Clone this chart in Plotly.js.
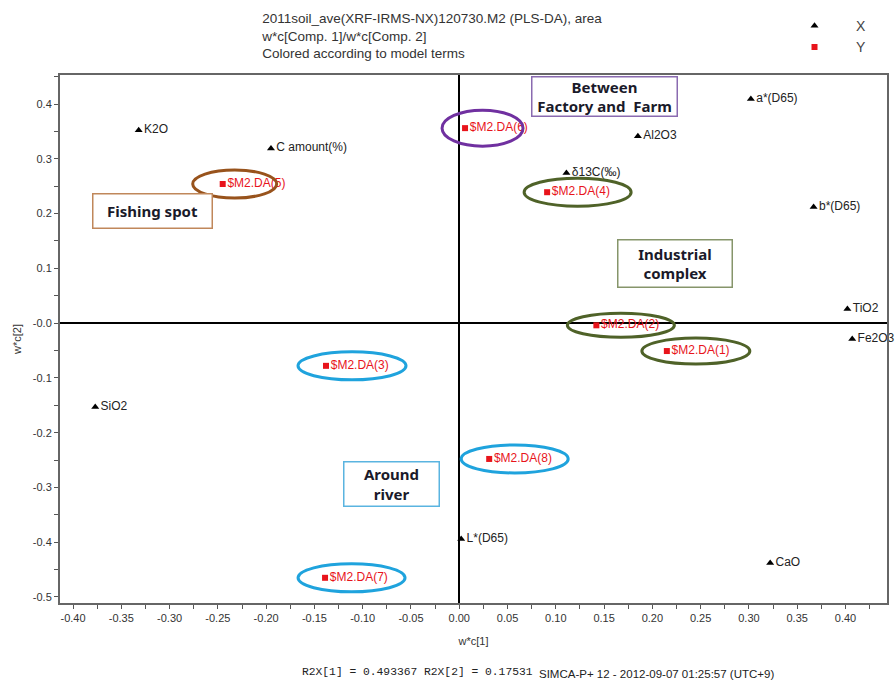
<!DOCTYPE html>
<html>
<head>
<meta charset="utf-8">
<script src="https://cdn.plot.ly/plotly-3.0.1.min.js"></script>
<style>html,body{margin:0;padding:0;background:#fff;}#chart{width:895px;height:680px;}</style>
</head>
<body>
<div id="chart"></div>
<script>
// X variables (model terms) loadings
const xNames = ["K2O", "C amount(%)", "SiO2", "a*(D65)", "Al2O3", "δ13C(‰)", "b*(D65)", "TiO2", "Fe2O3", "L*(D65)", "CaO"];
const xW1 = [-0.332, -0.195, -0.377, 0.302, 0.185, 0.111, 0.367, 0.402, 0.407, 0.002, 0.322];
const xW2 = [0.352, 0.319, -0.153, 0.409, 0.341, 0.274, 0.212, 0.026, -0.029, -0.394, -0.438];

// Y variables (class dummies)
const yNames = ["$M2.DA(1)", "$M2.DA(2)", "$M2.DA(3)", "$M2.DA(4)", "$M2.DA(5)", "$M2.DA(6)", "$M2.DA(7)", "$M2.DA(8)"];
const yW1 = [0.215, 0.142, -0.138, 0.091, -0.245, 0.006, -0.139, 0.031];
const yW2 = [-0.051, -0.004, -0.078, 0.239, 0.254, 0.356, -0.465, -0.248];

// group of each Y class (for circling)
const yGroup = ["industrial", "industrial", "river", "industrial", "fishing", "between", "river", "river"];

const xTickVals = [-0.40,-0.35,-0.30,-0.25,-0.20,-0.15,-0.10,-0.05,0.00,0.05,0.10,0.15,0.20,0.25,0.30,0.35,0.40];
const yTickVals = [0.4,0.3,0.2,0.1,0.0,-0.1,-0.2,-0.3,-0.4,-0.5];
const yTickText = ["0.4","0.3","0.2","0.1","-0.0","-0.1","-0.2","-0.3","-0.4","-0.5"];

const groupColor = {industrial:"#4f6228", river:"#1fa3dd", fishing:"#98531c", between:"#7030a0"};
// ellipse extents in pixels relative to the marker (style)
const ellipseExt = {
  "$M2.DA(1)": [-25, 83, 13], "$M2.DA(2)": [-29, 78, 12], "$M2.DA(3)": [-28, 80, 14],
  "$M2.DA(4)": [-23, 84, 14], "$M2.DA(5)": [-30, 54, 14], "$M2.DA(6)": [-23, 58, 18],
  "$M2.DA(7)": [-27, 80, 14], "$M2.DA(8)": [-28, 79, 14]
};

const shapes = yNames.map((n, i) => {
  const e = ellipseExt[n];
  return {
    type: "circle", xref: "x", yref: "y", xsizemode: "pixel", ysizemode: "pixel",
    xanchor: yW1[i], yanchor: yW2[i], x0: e[0], x1: e[1], y0: -e[2], y1: e[2],
    line: {color: groupColor[yGroup[i]], width: 3}, fillcolor: "rgba(0,0,0,0)", layer: "above"
  };
});

const traceX = {
  type: "scatter", mode: "markers+text", name: "X",
  x: xW1, y: xW2, text: xNames, textposition: "middle right",
  textfont: {family: "Liberation Sans, Arial", size: 12, color: "#222"},
  marker: {symbol: "triangle-up", size: 7, color: "#000"},
  cliponaxis: false
};
const traceY = {
  type: "scatter", mode: "markers+text", name: "Y",
  x: yW1, y: yW2, text: yNames, textposition: "middle right",
  textfont: {family: "Liberation Sans, Arial", size: 12, color: "#e8141b"},
  marker: {symbol: "square", size: 6, color: "#e8141b"},
  cliponaxis: false
};

function box(text, x, y, w, h, color) {
  return {
    xref: "x", yref: "y", x: x, y: y, text: "<b>" + text + "</b>", showarrow: false,
    font: {family: "Noto Sans, Liberation Sans", size: 15, color: "#1a1a2a"},
    bordercolor: color, borderwidth: 1.5, borderpad: 0, bgcolor: "#fff",
    width: w, height: h, align: "center", valign: "middle"
  };
}

const annotations = [
  box("Fishing spot", -0.318, 0.204, 118, 33, "#c0875a"),
  box("Between<br>Factory and  Farm", 0.150, 0.414, 144, 38, "#8a6ab0"),
  box("Industrial<br>complex", 0.223, 0.109, 113, 46, "#86956a"),
  box("Around<br>river", -0.070, -0.294, 94, 43, "#5ab4e0"),
  {xref: "paper", yref: "paper", x: 0.290, y: -0.131, xanchor: "left", yanchor: "middle", showarrow: false,
   text: "R2X[1] = 0.493367 R2X[2] = 0.17531", font: {family: "Liberation Mono, DejaVu Sans Mono", size: 11.3, color: "#222"}},
  {xref: "paper", yref: "paper", x: 0.577, y: -0.135, xanchor: "left", yanchor: "middle", showarrow: false,
   text: "SIMCA-P+ 12 - 2012-09-07 01:25:57 (UTC+9)", font: {family: "Liberation Sans, Arial", size: 11.5, color: "#222"}}
];

const layout = {
  width: 895, height: 680,
  margin: {l: 60, r: 8, t: 75, b: 77, autoexpand: false},
  paper_bgcolor: "#fff", plot_bgcolor: "#fff",
  font: {family: "Liberation Sans, Arial", color: "#333"},
  title: {
    text: "2011soil_ave(XRF-IRMS-NX)120730.M2 (PLS-DA), area<br>w*c[Comp. 1]/w*c[Comp. 2]<br>Colored according to model terms",
    xref: "container", yref: "container", x: 0.293, xanchor: "left", y: 0.966, yanchor: "top",
    font: {family: "Liberation Sans, Arial", size: 13.5, color: "#333"}
  },
  xaxis: {
    range: [-0.4135, 0.443], tickvals: xTickVals, ticktext: xTickVals.map(v => v.toFixed(2)),
    ticks: "outside", ticklen: 4, tickcolor: "#555", tickwidth: 1,
    minor: {dtick: 0.025, tick0: 0, ticks: "outside", ticklen: 4, tickcolor: "#555"},
    showgrid: false, zeroline: true, zerolinecolor: "#000", zerolinewidth: 2,
    showline: true, linecolor: "#666", linewidth: 2, mirror: true,
    tickfont: {family: "Liberation Sans, Arial", size: 11, color: "#333"},
    title: {text: "w*c[1]", font: {family: "Liberation Sans, Arial", size: 11, color: "#333"}, standoff: 14}
  },
  yaxis: {
    range: [-0.511, 0.453], tickvals: yTickVals, ticktext: yTickText,
    ticks: "outside", ticklen: 4, tickcolor: "#555", tickwidth: 1,
    minor: {dtick: 0.05, tick0: 0, ticks: "outside", ticklen: 4, tickcolor: "#555"},
    showgrid: false, zeroline: true, zerolinecolor: "#000", zerolinewidth: 2,
    showline: true, linecolor: "#666", linewidth: 2, mirror: true,
    tickfont: {family: "Liberation Sans, Arial", size: 11, color: "#333"},
    title: {text: "w*c[2]", font: {family: "Liberation Sans, Arial", size: 11, color: "#333"}, standoff: 9}
  },
  showlegend: true,
  legend: {
    xref: "container", yref: "container", x: 0.8637, y: 0.985, xanchor: "left", yanchor: "top",
    font: {family: "Liberation Sans, Arial", size: 14, color: "#444"},
    bgcolor: "rgba(0,0,0,0)", itemwidth: 73, tracegroupgap: 0
  },
  shapes: shapes,
  annotations: annotations
};

Plotly.newPlot("chart", [traceX, traceY], layout, {displayModeBar: false, staticPlot: true});
</script>
</body>
</html>
